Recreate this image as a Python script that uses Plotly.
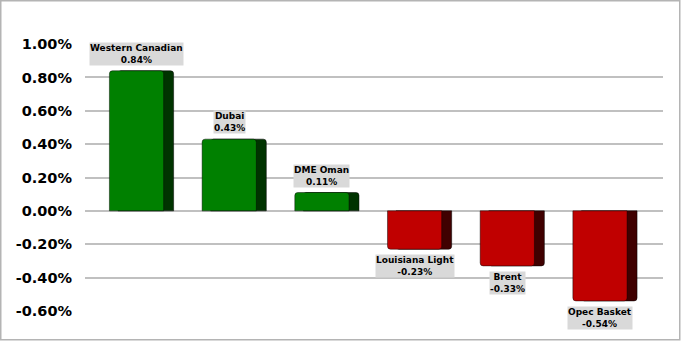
import plotly.graph_objects as go

categories = ["Western Canadian", "Dubai", "DME Oman", "Louisiana Light", "Brent", "Opec Basket"]
changes = [0.84, 0.43, 0.11, -0.23, -0.33, -0.54]
label_texts = ["0.84%", "0.43%", "0.11%", "-0.23%", "-0.33%", "-0.54%"]
tick_vals = [1.0, 0.8, 0.6, 0.4, 0.2, 0.0, -0.2, -0.4, -0.6]
tick_text = ["1.00%", "0.80%", "0.60%", "0.40%", "0.20%", "0.00%", "-0.20%", "-0.40%", "-0.60%"]

xs = list(range(len(categories)))
front_colors = ["#008000" if v >= 0 else "#c00000" for v in changes]
side_colors = ["#003300" if v >= 0 else "#400000" for v in changes]

W, H = 681, 341
ml, mr, mt, mb = 85, 18, 44, 30
pw, ph = W - ml - mr, H - mt - mb

fig = go.Figure()
# side (depth) face
fig.add_trace(go.Bar(
    x=xs, y=changes, width=0.6, offset=-0.2,
    marker=dict(color=side_colors, line=dict(color="rgba(0,0,0,0.5)", width=1), cornerradius=3),
    hoverinfo="skip", showlegend=False,
))
# front face
fig.add_trace(go.Bar(
    x=xs, y=changes, width=0.585, offset=-0.2925,
    marker=dict(color=front_colors, line=dict(color="rgba(0,0,0,0.45)", width=1), cornerradius=3),
    hovertext=categories, showlegend=False,
))

for x, v, c, t in zip(xs, changes, categories, label_texts):
    fig.add_annotation(
        x=x, y=v, text=f"<b>{c}</b><br><b>{t}</b>", showarrow=False,
        yanchor="bottom" if v >= 0 else "top",
        yshift=5 if v >= 0 else -5,
        bgcolor="#d9d9d9", borderpad=0,
        font=dict(family="DejaVu Sans", size=9, color="#000000"),
    )

# outer chart border
fig.add_shape(
    type="rect", xref="paper", yref="paper",
    x0=(0.75 - ml) / pw, x1=(W - 1.25 - ml) / pw,
    y0=(ph + mt - (H - 1.25)) / ph, y1=(ph + mt - 0.75) / ph,
    line=dict(color="#b4b4b4", width=1.5), fillcolor="rgba(0,0,0,0)", layer="below",
)

fig.update_layout(
    width=W, height=H,
    margin=dict(l=ml, r=mr, t=mt, b=mb),
    paper_bgcolor="white", plot_bgcolor="white",
    barmode="overlay",
    xaxis=dict(range=[-0.556, 5.68], showticklabels=False, showgrid=False, zeroline=False, fixedrange=True),
    yaxis=dict(
        range=[-0.6005, 1.0005], tickvals=tick_vals, ticktext=tick_text,
        showgrid=True, gridcolor="#c0c0c0", gridwidth=1.5,
        zeroline=True, zerolinecolor="#c0c0c0", zerolinewidth=1.5,
        tickfont=dict(family="DejaVu Sans", size=14.5, color="#000000", weight="bold"),
        ticklabelstandoff=12,
    ),
)

fig.write_html("out.html")
